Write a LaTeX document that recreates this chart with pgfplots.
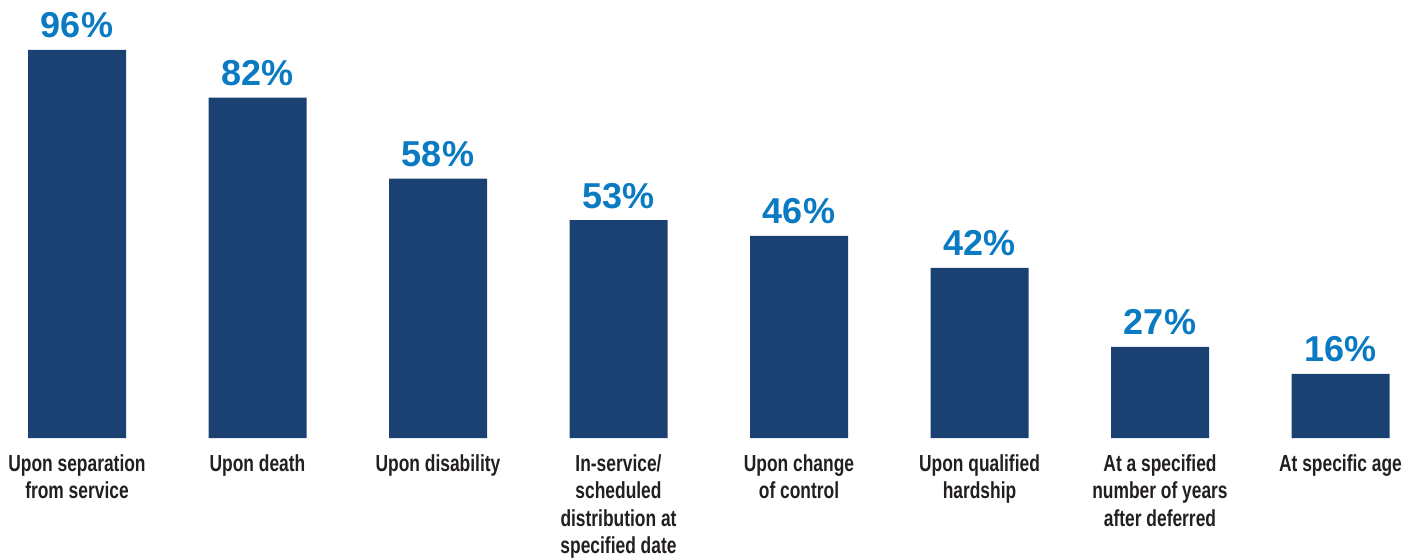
\documentclass[border=0pt]{standalone}
\usepackage{fontspec}
\setmainfont{Liberation Sans}
\newfontfamily\condfont[FakeStretch=0.75]{Liberation Sans}
\usepackage{pgfplots}
\pgfplotsset{compat=1.18}
\definecolor{barblue}{HTML}{1B4173}
\definecolor{valblue}{HTML}{0A7AC2}
\definecolor{labcol}{HTML}{231F20}
\begin{document}
\begin{tikzpicture}
\begin{axis}[
  scale only axis, width=709.5pt, height=219pt,
  xmin=-0.4266, xmax=7.435, ymin=0, ymax=108.1,
  axis line style={draw=none}, major tick length=0pt,
  ytick=\empty,
  xtick={0,1,2,3,4,5,6,7},
  xticklabels={
    {Upon separation\\from service},
    {Upon death},
    {Upon disability},
    {In-service/\\scheduled\\distribution at\\specified date},
    {Upon change\\of control},
    {Upon qualified\\hardship},
    {At a specified\\number of years\\after deferred},
    {At specific age}},
  xticklabel style={font=\condfont\bfseries\fontsize{11.6}{13.7}\selectfont, align=center, text=labcol, anchor=north, inner sep=0pt, yshift=-8pt},
  clip=false,
  ybar, bar width=49pt, bar shift=0pt,
  point meta=explicit symbolic,
  nodes near coords={\pgfplotspointmeta\%},
  nodes near coords style={font=\bfseries\fontsize{18}{20}\selectfont, text=valblue, anchor=base, inner sep=0pt, yshift=6pt},
]
\addplot[fill=barblue, draw=none] coordinates {
  (0,95.8) [96] (1,84.0) [82] (2,64.0) [58] (3,53.8) [53]
  (4,49.9) [46] (5,42.0) [42] (6,22.5) [27] (7,15.8) [16]};
\end{axis}
\pgfresetboundingbox
\path (current axis.south west) ++(0,-59.5pt) rectangle (current axis.north east);
\end{tikzpicture}
\end{document}
